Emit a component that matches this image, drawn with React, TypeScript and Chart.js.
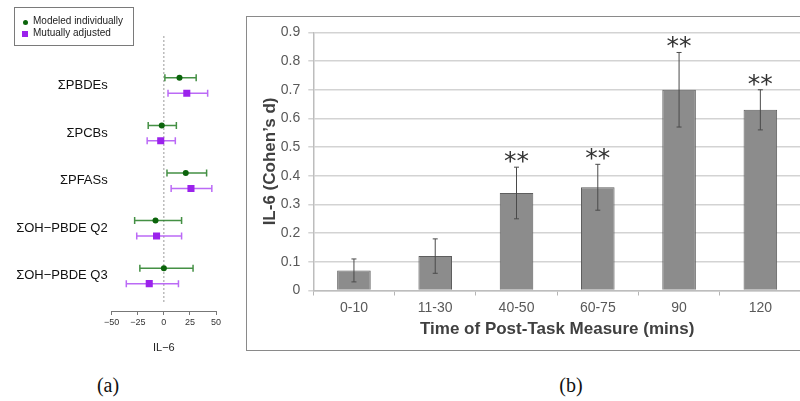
import React, { useEffect, useRef } from "react";
import { Chart, registerables } from "chart.js";
Chart.register(...registerables);

// ---------- Panel (a): forest plot data ----------
const exposures = ["ΣPBDEs", "ΣPCBs", "ΣPFASs", "ΣOH−PBDE Q2", "ΣOH−PBDE Q3"];
const indivEst = [15, -2, 21, -8, 0];
const indivLow = [1, -15, 3, -28, -23];
const indivHigh = [31, 12, 41, 17, 28];
const adjEst = [22, -3, 26, -7, -14];
const adjLow = [4, -16, 7, -26, -36];
const adjHigh = [42, 11, 46, 17, 14];
const il6Ticks = [-50, -25, 0, 25, 50];
const seriesNames = ["Modeled individually", "Mutually adjusted"];

// ---------- Panel (b): bar chart data ----------
const timeCats = ["0-10", "11-30", "40-50", "60-75", "90", "120"];
const cohenD = [0.07, 0.12, 0.34, 0.36, 0.7, 0.63];
const cohenLow = [0.03, 0.06, 0.25, 0.28, 0.57, 0.56];
const cohenHigh = [0.11, 0.18, 0.43, 0.44, 0.83, 0.7];
const sigMarks = ["", "", "**", "**", "**", "**"];
const dTicks = [0, 0.1, 0.2, 0.3, 0.4, 0.5, 0.6, 0.7, 0.8, 0.9];

const SANS = "'Liberation Sans', Arial, Helvetica, sans-serif";
const ROW_OFF = 0.162;

const forestPlugin = {
  id: "forestErr",
  beforeDatasetsDraw(chart: any) {
    const { ctx, chartArea } = chart;
    const x = chart.scales.x;
    const x0 = x.getPixelForValue(0);
    ctx.save();
    ctx.strokeStyle = "#9a9a9a";
    ctx.lineWidth = 1;
    ctx.setLineDash([2, 2]);
    ctx.beginPath();
    ctx.moveTo(x0, chartArea.top);
    ctx.lineTo(x0, chartArea.bottom - 8);
    ctx.stroke();
    ctx.setLineDash([]);
    chart.data.datasets.forEach((ds: any, di: number) => {
      const meta = chart.getDatasetMeta(di);
      ctx.strokeStyle = ds.errColor;
      ctx.lineWidth = 1.5;
      meta.data.forEach((pt: any, i: number) => {
        const y = pt.y;
        const xl = x.getPixelForValue(ds.lower[i]);
        const xh = x.getPixelForValue(ds.upper[i]);
        ctx.beginPath();
        ctx.moveTo(xl, y);
        ctx.lineTo(xh, y);
        ctx.moveTo(xl, y - 3.5);
        ctx.lineTo(xl, y + 3.5);
        ctx.moveTo(xh, y - 3.5);
        ctx.lineTo(xh, y + 3.5);
        ctx.stroke();
      });
    });
    ctx.restore();
  },
};

const barPlugin = {
  id: "barErr",
  afterDatasetsDraw(chart: any) {
    const { ctx } = chart;
    const y = chart.scales.y;
    const ds = chart.data.datasets[0];
    const meta = chart.getDatasetMeta(0);
    ctx.save();
    meta.data.forEach((bar: any, i: number) => {
      const bx = bar.x;
      const yl = y.getPixelForValue(ds.lower[i]);
      const yh = y.getPixelForValue(ds.upper[i]);
      ctx.strokeStyle = "#4a4a4a";
      ctx.lineWidth = 1;
      ctx.beginPath();
      ctx.moveTo(bx, yl);
      ctx.lineTo(bx, yh);
      ctx.moveTo(bx - 2.5, yl);
      ctx.lineTo(bx + 2.5, yl);
      ctx.moveTo(bx - 2.5, yh);
      ctx.lineTo(bx + 2.5, yh);
      ctx.stroke();
      const s = ds.sig[i];
      if (s) {
        ctx.fillStyle = "#333333";
        ctx.font = "25px 'DejaVu Sans', sans-serif";
        ctx.textAlign = "center";
        ctx.textBaseline = "alphabetic";
        ctx.fillText(s, bx, yh + 2);
      }
    });
    ctx.restore();
  },
};

function ForestChart() {
  const ref = useRef<HTMLCanvasElement>(null);
  useEffect(() => {
    const chart = new Chart(ref.current as HTMLCanvasElement, {
      type: "scatter",
      data: {
        datasets: [
          {
            label: seriesNames[0],
            data: indivEst.map((v, i) => ({ x: v, y: i - ROW_OFF })),
            pointStyle: "circle",
            pointRadius: 3,
            backgroundColor: "#0b640b",
            borderColor: "#0b640b",
            borderWidth: 0,
            lower: indivLow,
            upper: indivHigh,
            errColor: "rgba(35,125,35,0.85)",
          } as any,
          {
            label: seriesNames[1],
            data: adjEst.map((v, i) => ({ x: v, y: i + ROW_OFF })),
            pointStyle: "rect",
            pointRadius: 5,
            backgroundColor: "#9b22ec",
            borderColor: "#9b22ec",
            borderWidth: 0,
            lower: adjLow,
            upper: adjHigh,
            errColor: "rgba(175,80,245,0.85)",
          } as any,
        ],
      },
      options: {
        responsive: false,
        animation: false,
        events: [],
        layout: { padding: { top: 36, right: 24, left: 0, bottom: 0 } },
        plugins: { legend: { display: false }, tooltip: { enabled: false } },
        scales: {
          x: {
            type: "linear",
            min: -50,
            max: 50,
            afterBuildTicks: (s: any) => {
              s.ticks = il6Ticks.map((v) => ({ value: v }));
            },
            ticks: {
              callback: (v: any) => (v < 0 ? "−" + Math.abs(v) : String(v)),
              font: { family: SANS, size: 9 },
              color: "#333",
              padding: 2,
              maxRotation: 0,
              autoSkip: false,
            },
            grid: { drawOnChartArea: false, drawTicks: true, tickLength: 4, color: "#777" },
            border: { display: true, color: "#777", width: 1 },
            title: {
              display: true,
              text: "IL−6",
              font: { family: SANS, size: 11 },
              color: "#222",
              padding: { top: 0, bottom: 5 },
            },
            afterFit: (s: any) => {
              s.height = 49;
            },
          },
          y: {
            type: "linear",
            reverse: true,
            min: -1.04,
            max: 4.737,
            afterBuildTicks: (s: any) => {
              s.ticks = exposures.map((_, i) => ({ value: i }));
            },
            ticks: {
              callback: (v: any) => exposures[Math.round(v)],
              font: { family: SANS, size: 13 },
              color: "#111",
              padding: 4,
              autoSkip: false,
            },
            grid: { display: false, drawTicks: false },
            border: { display: false },
            afterFit: (s: any) => {
              s.width = 111.7;
            },
          },
        },
      } as any,
      plugins: [forestPlugin],
    });
    return () => chart.destroy();
  }, []);
  return <canvas ref={ref} width={240} height={360} style={{ position: "absolute", left: 0, top: 0, width: 240, height: 360 }} />;
}

function BarChart() {
  const ref = useRef<HTMLCanvasElement>(null);
  useEffect(() => {
    const chart = new Chart(ref.current as HTMLCanvasElement, {
      type: "bar",
      data: {
        labels: timeCats,
        datasets: [
          {
            data: cohenD,
            backgroundColor: "#8c8c8c",
            borderColor: "#5e5e5e",
            borderWidth: 1,
            barPercentage: 0.413,
            categoryPercentage: 1,
            lower: cohenLow,
            upper: cohenHigh,
            sig: sigMarks,
          } as any,
        ],
      },
      options: {
        responsive: false,
        animation: false,
        events: [],
        layout: { padding: { top: 13.3, right: 5, left: 0, bottom: 0 } },
        plugins: { legend: { display: false }, tooltip: { enabled: false } },
        scales: {
          x: {
            grid: { display: true, drawOnChartArea: false, drawTicks: true, tickLength: 5, color: "#b5b5b5", offset: true },
            border: { display: true, color: "#bdbdbd", width: 1.5 },
            ticks: { font: { family: SANS, size: 14 }, color: "#595959", padding: 4 },
            title: {
              display: true,
              text: "Time of Post-Task Measure (mins)",
              font: { family: SANS, size: 17, weight: "bold" },
              color: "#404040",
              padding: { top: 0, bottom: 10 },
            },
            afterFit: (s: any) => {
              s.height = 59.5;
            },
          },
          y: {
            min: 0,
            max: 0.9,
            afterBuildTicks: (s: any) => {
              s.ticks = dTicks.map((v) => ({ value: v }));
            },
            ticks: {
              callback: (v: any) => (v === 0 ? "0" : Number(v).toFixed(1)),
              font: { family: SANS, size: 14 },
              color: "#595959",
              padding: 8,
            },
            grid: { color: "#d3d3d3", lineWidth: 1.5, drawTicks: true, tickLength: 5 },
            border: { display: true, color: "#bdbdbd", width: 1.5 },
            title: {
              display: true,
              text: "IL-6 (Cohen’s d)",
              font: { family: SANS, size: 17, weight: "bold" },
              color: "#404040",
              padding: { top: 14, bottom: 0 },
            },
            afterFit: (s: any) => {
              s.width = 67.3;
            },
          },
        },
      } as any,
      plugins: [barPlugin],
    });
    return () => chart.destroy();
  }, []);
  return <canvas ref={ref} width={560} height={334} style={{ position: "absolute", left: 246, top: 16, width: 560, height: 334 }} />;
}

export default function App() {
  return (
    <div style={{ position: "fixed", left: 0, top: 0, width: 800, height: 401, overflow: "hidden", background: "#fff" }}>
      <ForestChart />
      <div
        style={{
          position: "absolute",
          left: 14,
          top: 7,
          width: 120,
          height: 39,
          border: "1px solid #7a7a7a",
          boxSizing: "border-box",
          fontFamily: SANS,
          fontSize: 10,
          color: "#222",
        }}
      >
        <span style={{ position: "absolute", left: 7.5, top: 11.5, width: 5, height: 5, borderRadius: "50%", background: "#0b640b" }} />
        <span style={{ position: "absolute", left: 18, top: 7, lineHeight: "12px", whiteSpace: "nowrap" }}>{seriesNames[0]}</span>
        <span style={{ position: "absolute", left: 7, top: 23, width: 6, height: 6, background: "#9b22ec" }} />
        <span style={{ position: "absolute", left: 18, top: 19, lineHeight: "12px", whiteSpace: "nowrap" }}>{seriesNames[1]}</span>
      </div>
      <BarChart />
      <div
        style={{
          position: "absolute",
          left: 245.5,
          top: 15.5,
          width: 600,
          height: 335.5,
          boxSizing: "border-box",
          borderTop: "1.5px solid #8a8a8a",
          borderLeft: "1.5px solid #8a8a8a",
          borderBottom: "1.5px solid #8a8a8a",
          pointerEvents: "none",
        }}
      />
      <div style={{ position: "absolute", left: 108, top: 385, transform: "translate(-50%, -50%)", fontFamily: "'Liberation Serif', 'Times New Roman', serif", fontSize: 20, lineHeight: 1, color: "#111" }}>(a)</div>
      <div style={{ position: "absolute", left: 571, top: 385, transform: "translate(-50%, -50%)", fontFamily: "'Liberation Serif', 'Times New Roman', serif", fontSize: 20, lineHeight: 1, color: "#111" }}>(b)</div>
    </div>
  );
}
